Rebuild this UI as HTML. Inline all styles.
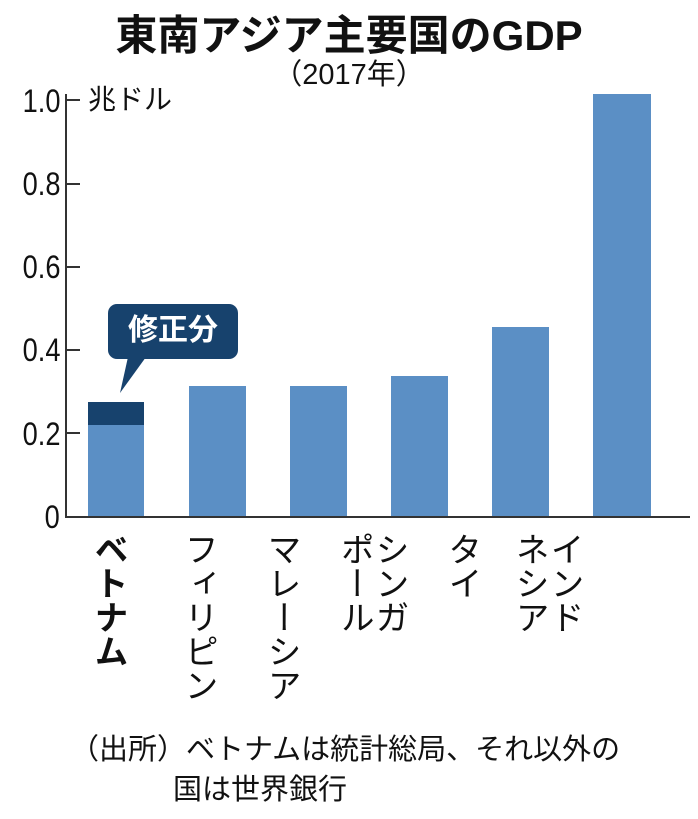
<!DOCTYPE html>
<html><head><meta charset="utf-8"><style>
body{margin:0;background:#fff;}
.c{position:relative;width:698px;height:819px;overflow:hidden;font-family:"Liberation Sans","Noto Sans CJK JP",sans-serif;color:#111;}
.a{position:absolute;white-space:nowrap;}
.yl{position:absolute;right:638px;font-size:32px;line-height:1;transform:scaleX(0.85);transform-origin:right center;}
.bar{position:absolute;background:#5b8fc5;}
.v{position:absolute;writing-mode:vertical-rl;font-size:34px;line-height:35px;letter-spacing:0px;top:532px;}
</style></head><body><div class="c">
<div class="a" style="left:0;width:698px;text-align:center;top:12px;font-size:42px;font-weight:bold;line-height:48px;">東南アジア主要国のGDP</div>
<div class="a" style="left:0;width:698px;text-align:center;top:58px;font-size:29px;line-height:34px;">（2017年）</div>

<div class="yl" style="top:85px">1.0</div>
<div class="yl" style="top:168px">0.8</div>
<div class="yl" style="top:251px">0.6</div>
<div class="yl" style="top:334px">0.4</div>
<div class="yl" style="top:418px">0.2</div>
<div class="yl" style="top:501px">0</div>
<div class="a" style="left:88px;top:84px;font-size:28px;line-height:32px;">兆ドル</div>

<div class="a" style="left:65px;top:94px;width:2px;height:423px;background:#333"></div>
<div class="a" style="left:65px;top:516px;width:625px;height:2px;background:#333"></div>
<div class="a" style="left:66px;top:99px;width:14px;height:2px;background:#333"></div>
<div class="a" style="left:66px;top:183px;width:14px;height:2px;background:#333"></div>
<div class="a" style="left:66px;top:266px;width:14px;height:2px;background:#333"></div>
<div class="a" style="left:66px;top:349px;width:14px;height:2px;background:#333"></div>
<div class="a" style="left:66px;top:432px;width:14px;height:2px;background:#333"></div>

<div class="bar" style="left:88px;top:402px;width:56px;height:114px;"></div>
<div class="bar" style="left:88px;top:402px;width:56px;height:23px;background:#17426d"></div>
<div class="bar" style="left:189px;top:386px;width:57px;height:130px;"></div>
<div class="bar" style="left:290px;top:386px;width:57px;height:130px;"></div>
<div class="bar" style="left:391px;top:376px;width:57px;height:140px;"></div>
<div class="bar" style="left:492px;top:327px;width:57px;height:189px;"></div>
<div class="bar" style="left:593px;top:94px;width:58px;height:422px;"></div>

<svg class="a" style="left:0;top:0" width="698" height="819">
<rect x="108" y="304" width="130" height="55" rx="9" fill="#17426d"/>
<polygon points="128,357 146,357 120,393" fill="#17426d"/>
</svg>
<div class="a" style="left:108px;top:312px;width:130px;text-align:center;font-size:30px;font-weight:bold;color:#fff;line-height:38px;">修正分</div>

<div class="v" style="left:90px;font-weight:bold;">ベトナム</div>
<div class="v" style="left:180px;">フィリピン</div>
<div class="v" style="left:263px;">マレーシア</div>
<div class="v" style="left:336px;">シンガ<br>ポール</div>
<div class="v" style="left:444px;">タイ</div>
<div class="v" style="left:511px;">インド<br>ネシア</div>

<div class="a" style="left:70px;top:733px;font-size:29px;line-height:34px;">（出所）ベトナムは統計総局、それ以外の</div>
<div class="a" style="left:173px;top:773px;font-size:29px;line-height:34px;">国は世界銀行</div>
</div></body></html>
